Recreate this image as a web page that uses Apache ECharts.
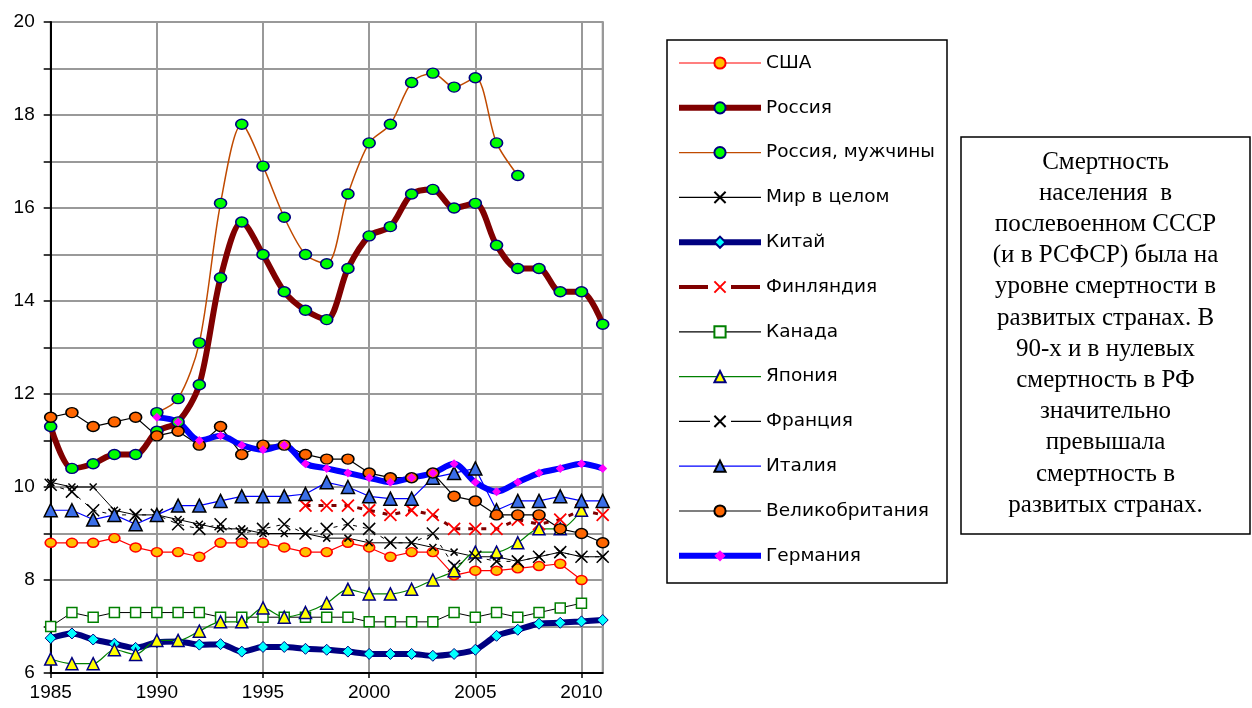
<!DOCTYPE html>
<html>
<head>
<meta charset="utf-8">
<script src="https://cdn.jsdelivr.net/npm/echarts@6/dist/echarts.min.js"></script>
<style>
  html, body { margin: 0; padding: 0; background: #fff; }
  #chart { width: 1252px; height: 708px; }
</style>
</head>
<body>
<div id="chart"></div>
<script>
const years = [1985, 1986, 1987, 1988, 1989, 1990, 1991, 1992, 1993, 1994, 1995, 1996, 1997, 1998,
  1999, 2000, 2001, 2002, 2003, 2004, 2005, 2006, 2007, 2008, 2009, 2010, 2011];

const usa = [8.8, 8.8, 8.8, 8.9, 8.7, 8.6, 8.6, 8.5, 8.8, 8.8, 8.8, 8.7, 8.6, 8.6,
  8.8, 8.7, 8.5, 8.6, 8.6, 8.1, 8.2, 8.2, 8.25, 8.3, 8.35, 8.0, null];
const russia = [11.3, 10.4, 10.5, 10.7, 10.7, 11.2, 11.4, 12.2, 14.5, 15.7, 15.0, 14.2, 13.8, 13.6,
  14.7, 15.4, 15.6, 16.3, 16.4, 16.0, 16.1, 15.2, 14.7, 14.7, 14.2, 14.2, 13.5];
const russiaMen = [null, null, null, null, null, 11.6, 11.9, 13.1, 16.1, 17.8, 16.9, 15.8, 15.0, 14.8,
  16.3, 17.4, 17.8, 18.7, 18.9, 18.6, 18.8, 17.4, 16.7, null, null, null, null];
const world = [10.1, 10.0, 10.0, 9.5, 9.4, 9.4, 9.3, 9.2, 9.1, 9.1, 9.0, 9.0, 9.0, 8.9,
  8.9, 8.8, 8.8, 8.8, 8.7, 8.6, 8.5, 8.5, 8.4, 8.5, 8.6, 8.5, 8.5];
const china = [6.75, 6.85, 6.72, 6.63, 6.54, 6.66, 6.68, 6.61, 6.62, 6.46, 6.56, 6.56, 6.52, 6.5,
  6.46, 6.41, 6.41, 6.41, 6.37, 6.41, 6.5, 6.8, 6.93, 7.06, 7.08, 7.11, 7.14];
const finland = [null, null, null, null, null, null, null, null, null, null, null, null, 9.6, 9.6,
  9.6, 9.5, 9.4, 9.5, 9.4, 9.1, 9.1, 9.1, 9.3, 9.2, 9.3, 9.5, 9.4];
const canada = [7.0, 7.3, 7.2, 7.3, 7.3, 7.3, 7.3, 7.3, 7.2, 7.2, 7.2, 7.2, 7.2, 7.2,
  7.2, 7.1, 7.1, 7.1, 7.1, 7.3, 7.2, 7.3, 7.2, 7.3, 7.4, 7.5, null];
const japan = [6.3, 6.2, 6.2, 6.5, 6.4, 6.7, 6.7, 6.9, 7.1, 7.1, 7.4, 7.2, 7.3, 7.5,
  7.8, 7.7, 7.7, 7.8, 8.0, 8.2, 8.6, 8.6, 8.8, 9.1, 9.1, 9.5, null];
const france = [10.05, 9.9, 9.5, 9.4, 9.4, 9.4, 9.2, 9.1, 9.2, 9.0, 9.1, 9.2, 9.0, 9.1,
  9.2, 9.1, 8.8, 8.8, 9.0, 8.3, 8.5, 8.4, 8.4, 8.5, 8.6, 8.5, 8.5];
const italy = [9.5, 9.5, 9.3, 9.4, 9.2, 9.4, 9.6, 9.6, 9.7, 9.8, 9.8, 9.8, 9.85, 10.1,
  10.0, 9.8, 9.75, 9.75, 10.2, 10.3, 10.4, 9.5, 9.7, 9.7, 9.8, 9.7, 9.7];
const uk = [11.5, 11.6, 11.3, 11.4, 11.5, 11.1, 11.2, 10.9, 11.3, 10.7, 10.9, 10.9, 10.7, 10.6,
  10.6, 10.3, 10.2, 10.2, 10.3, 9.8, 9.7, 9.4, 9.4, 9.4, 9.1, 9.0, 8.8];
const germany = [null, null, null, null, null, 11.5, 11.4, 11.0, 11.1, 10.9, 10.8, 10.9, 10.5, 10.4,
  10.3, 10.2, 10.1, 10.2, 10.3, 10.5, 10.1, 9.9, 10.1, 10.3, 10.4, 10.5, 10.4];

const noteLines = [
  'Смертность',
  'населения  в',
  'послевоенном СССР',
  '(и в РСФСР) была на',
  'уровне смертности в',
  'развитых странах. В',
  '90-х и в нулевых',
  'смертность в РФ',
  'значительно',
  'превышала',
  'смертность в',
  'развитых странах.'
];

const X_MARK = 'path://M0,0L10,10M10,0L0,10';

function pairs(values) {
  return years.map((y, i) => [y, values[i] == null ? '-' : values[i]]);
}

function line(name, values, lineStyle, symbol, symbolSize, itemStyle, smooth) {
  return {
    name: name,
    type: 'line',
    data: pairs(values),
    smooth: smooth ? 0.3 : false,
    symbol: symbol,
    symbolSize: symbolSize,
    showAllSymbol: true,
    lineStyle: lineStyle,
    itemStyle: itemStyle,
    emphasis: { disabled: true }
  };
}

const series = [
  line('США', usa, { color: '#ff0000', width: 1.2 }, 'circle', [11, 9],
    { color: '#ffc000', borderColor: '#ff0000', borderWidth: 1.5 }),
  line('Россия', russia, { color: '#800000', width: 6 }, 'circle', [12, 10],
    { color: '#00ff00', borderColor: '#000080', borderWidth: 1.5 }, true),
  line('Россия, мужчины', russiaMen, { color: '#c04a00', width: 1.5 }, 'circle', [12, 10],
    { color: '#00ff00', borderColor: '#000080', borderWidth: 1.5 }, true),
  line('Мир в целом', world, { color: '#000', width: 1 }, X_MARK, 7,
    { color: '#000', borderColor: '#000', borderWidth: 1.5 }),
  line('Китай', china, { color: '#000080', width: 6 }, 'diamond', 11,
    { color: '#00ffff', borderColor: '#000080', borderWidth: 1 }, true),
  line('Финляндия', finland, { color: '#800000', width: 3, type: [5, 8] }, X_MARK, 12,
    { color: '#ff0000', borderColor: '#ff0000', borderWidth: 1.8 }),
  line('Канада', canada, { color: '#000', width: 1 }, 'rect', 10,
    { color: '#ffffff', borderColor: '#008000', borderWidth: 1.5 }),
  line('Япония', japan, { color: '#008000', width: 1.2 }, 'triangle', 12,
    { color: '#ffff00', borderColor: '#000080', borderWidth: 1.5 }, true),
  line('Франция', france, { color: '#000', width: 1, type: [4, 6] }, X_MARK, 12,
    { color: '#000', borderColor: '#000', borderWidth: 1.5 }),
  line('Италия', italy, { color: '#0000ff', width: 1.2 }, 'triangle', 13,
    { color: '#3a6ee8', borderColor: '#000', borderWidth: 1.5 }),
  line('Великобритания', uk, { color: '#000', width: 1.2 }, 'circle', [12, 10],
    { color: '#ff6600', borderColor: '#000', borderWidth: 1.5 }),
  line('Германия', germany, { color: '#0000ff', width: 6 }, 'diamond', 9,
    { color: '#ff00ff', borderWidth: 0 }, true)
];

const legendLines = {
  'Россия': { width: 6 },
  'Китай': { width: 6 },
  'Германия': { width: 6 },
  'Финляндия': { width: 4, type: [29, 23] },
  'Франция': { width: 1.2, type: [31, 21] }
};

const options = {
  animation: false,
  backgroundColor: '#fff',
  textStyle: { fontFamily: 'Liberation Sans' },
  grid: {
    left: 50.7,
    right: 649.3,
    top: 22,
    bottom: 35,
    show: true,
    borderColor: '#999',
    borderWidth: 2,
    containLabel: false,
    outerBoundsMode: 'none'
  },
  xAxis: {
    type: 'value',
    min: 1985,
    max: 2011,
    interval: 5,
    axisLine: { show: true, onZero: false, lineStyle: { color: '#000', width: 2 } },
    axisTick: { show: true, length: 5, lineStyle: { color: '#000', width: 1.5 } },
    axisLabel: {
      show: true, fontSize: 19, color: '#000', margin: 10, showMaxLabel: false,
      formatter: v => String(v)
    },
    splitLine: { show: true, lineStyle: { color: '#999', width: 2 } }
  },
  yAxis: {
    type: 'value',
    min: 6,
    max: 20,
    interval: 1,
    axisLine: { show: true, onZero: false, lineStyle: { color: '#000', width: 2 } },
    axisTick: { show: true, length: 7, lineStyle: { color: '#000', width: 1.5 } },
    axisLabel: {
      show: true, fontSize: 19, color: '#000', margin: 16,
      formatter: v => (v % 2 === 0 ? String(v) : '')
    },
    splitLine: { show: true, lineStyle: { color: '#999', width: 2 } }
  },
  legend: {
    orient: 'vertical',
    left: 676,
    top: 53,
    padding: 0,
    itemWidth: 82,
    itemHeight: 14,
    itemGap: 24.8,
    selectedMode: false,
    textStyle: { fontSize: 18.5, color: '#000', lineHeight: 20, fontFamily: 'DejaVu Sans' },
    data: series.map(s => ({
      name: s.name,
      lineStyle: legendLines[s.name] || { width: 1.2 }
    }))
  },
  graphic: [
    {
      type: 'rect',
      shape: { x: 667, y: 40, width: 280, height: 543 },
      style: { fill: 'none', stroke: '#000', lineWidth: 1.5 },
      silent: true
    },
    {
      type: 'rect',
      shape: { x: 961, y: 137, width: 289, height: 397 },
      style: { fill: 'none', stroke: '#000', lineWidth: 1.5 },
      silent: true
    },
    {
      type: 'text',
      x: 1105.5,
      y: 146.5,
      silent: true,
      style: {
        text: noteLines.join('\n'),
        align: 'center',
        verticalAlign: 'top',
        fontSize: 25,
        lineHeight: 31.2,
        fontFamily: 'Liberation Serif',
        fill: '#000'
      }
    }
  ],
  series: series
};

const myChart = echarts.init(document.getElementById('chart'));
myChart.setOption(options);
</script>
</body>
</html>
